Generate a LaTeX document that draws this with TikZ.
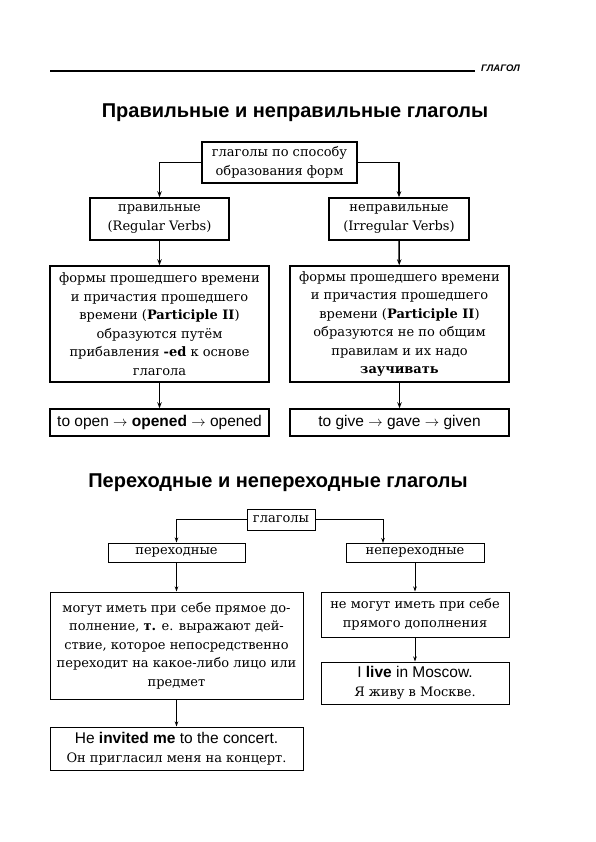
\documentclass[tikz,border=0pt]{standalone}
\usepackage{fontspec}
\setmainfont{DejaVu Serif}
\newfontfamily\headfont{Liberation Sans}
\usetikzlibrary{positioning, arrows.meta}

\newcommand{\exfont}{\headfont\fontsize{15.5}{18.5}\selectfont}

\tikzset{
  verbbox/.style={draw, line width=1.5pt, align=center, inner sep=1pt,
    font=\fontsize{13}{18.5}\selectfont},
  verbarrow/.style={line width=1.5pt, -{Stealth[length=6pt, width=4.5pt]}},
  thinbox/.style={verbbox, line width=1pt},
  thinarrow/.style={line width=0.9pt, -{Stealth[length=5pt, width=3.5pt]}},
  sectitle/.style={font=\headfont\bfseries\fontsize{20}{22}\selectfont}
}

\begin{document}
\begin{tikzpicture}[x=1pt, y=-1pt]
  \useasboundingbox (0,0) rectangle (595,842);

  % running head
  \coordinate (headleft) at (50,71);
  \coordinate (headright) at (475,71);
  \node[anchor=south west, inner sep=0pt, font=\headfont\bfseries\itshape\fontsize{9.5}{10}\selectfont]
    (runhead) at (481,72) {ГЛАГОЛ};
  \draw[line width=1.1pt] (headleft) -- (headright);

  % regular / irregular
  \node[sectitle] (title1) at (295,113) {Правильные и неправильные глаголы};

  \node[verbbox, minimum width=155, minimum height=41] (forms) at (279.5,162.5)
    {глаголы по способу\\образования форм};
  \node[verbbox, minimum width=139, minimum height=42] (reg) at (159.5,219)
    {правильные\\(Regular Verbs)};
  \node[verbbox, minimum width=140, minimum height=42] (irr) at (399,219)
    {неправильные\\(Irregular Verbs)};
  \node[verbbox, minimum width=219, minimum height=116] (regrule) at (159.5,324)
    {формы прошедшего времени\\и причастия прошедшего\\времени (\textbf{Participle II})\\образуются путём\\прибавления \textbf{-ed} к основе\\глагола};
  \node[verbbox, minimum width=219, minimum height=116] (irrrule) at (399.5,324)
    {формы прошедшего времени\\и причастия прошедшего\\времени (\textbf{Participle II})\\образуются не по общим\\правилам и их надо\\\textbf{заучивать}};
  \node[verbbox, minimum width=219, minimum height=27] (regex) at (159.5,422.5)
    {\exfont to open $\rightarrow$ \textbf{opened} $\rightarrow$ opened};
  \node[verbbox, minimum width=219, minimum height=27] (irrex) at (399.5,422.5)
    {\exfont to give $\rightarrow$ gave $\rightarrow$ given};

  \draw[verbarrow] (forms.west) -| (reg.north);
  \draw[verbarrow] (forms.east) -| (irr.north);
  \draw[verbarrow] (reg) -- (regrule);
  \draw[verbarrow] (irr) -- (irrrule);
  \draw[verbarrow] (regrule) -- (regex);
  \draw[verbarrow] (irrrule) -- (irrex);

  % transitive / intransitive
  \node[sectitle] (title2) at (278,483) {Переходные и непереходные глаголы};

  \node[thinbox, minimum width=68, minimum height=21] (verbs) at (281,519.5) {глаголы};
  \node[thinbox, minimum width=137, minimum height=19] (trans) at (176.5,552.5) {переходные};
  \node[thinbox, minimum width=138, minimum height=19] (intr) at (415,552.5) {непереходные};
  \coordinate (intrin) at (383,543);
  \node[thinbox, minimum width=253, minimum height=107] (transrule) at (176.5,645.5)
    {могут иметь при себе прямое до-\\полнение, \textbf{т.} е. выражают дей-\\ствие, которое непосредственно\\переходит на какое-либо лицо или\\предмет};
  \node[thinbox, minimum width=188, minimum height=45] (intrrule) at (415,614.5)
    {не могут иметь при себе\\прямого дополнения};
  \node[thinbox, minimum width=188, minimum height=42] (intrex) at (415,683)
    {{\exfont I \textbf{live} in Moscow.}\\Я живу в Москве.};
  \node[thinbox, minimum width=253, minimum height=43] (transex) at (176.5,748.5)
    {{\exfont He \textbf{invited me} to the concert.}\\Он пригласил меня на концерт.};

  \draw[thinarrow] (verbs.west) -| (trans.north);
  \draw[thinarrow] (verbs.east) -| (intrin);
  \draw[thinarrow] (trans) -- (transrule);
  \draw[thinarrow] (intr) -- (intrrule);
  \draw[thinarrow] (intrrule) -- (intrex);
  \draw[thinarrow] (transrule) -- (transex);
\end{tikzpicture}
\end{document}
